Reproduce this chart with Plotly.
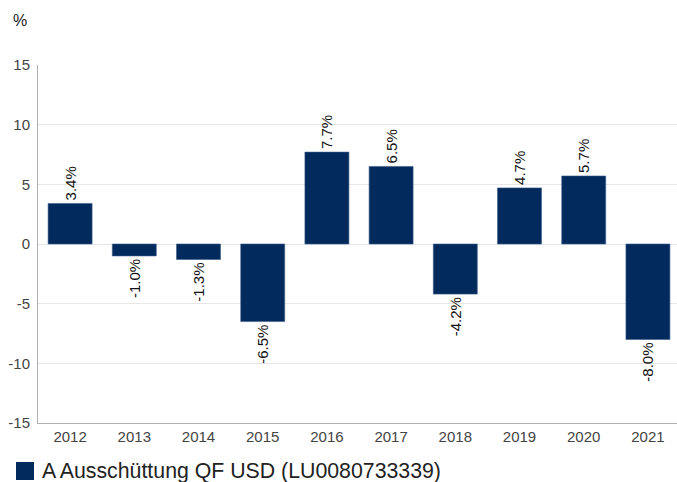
import plotly.graph_objects as go

years = ["2012", "2013", "2014", "2015", "2016", "2017", "2018", "2019", "2020", "2021"]
values = [3.4, -1.0, -1.3, -6.5, 7.7, 6.5, -4.2, 4.7, 5.7, -8.0]
labels = [f"{v:.1f}%" for v in values]
series_name = "A Ausschüttung QF USD (LU0080733339)"
y_ticks = [-15, -10, -5, 0, 5, 10, 15]
y_tick_text = [str(t) for t in y_ticks]

bar_color = "#022a5c"
font_family = "Liberation Sans, Arial, sans-serif"

fig = go.Figure()
fig.add_trace(go.Bar(
    x=years, y=values, text=labels,
    textposition="outside", textangle=-90,
    textfont=dict(size=15, color="#111", family=font_family),
    marker=dict(color=bar_color, line=dict(color="#3a5a8c", width=0.6)),
    cliponaxis=False, showlegend=False, name=series_name,
))

fig.update_layout(
    width=677, height=482,
    margin=dict(l=38, r=0, t=65, b=59),
    paper_bgcolor="white", plot_bgcolor="white",
    bargap=0.315,
    font=dict(family=font_family),
    xaxis=dict(
        type="category", range=[-0.5, 9.453], automargin=False,
        showgrid=False, showline=True, linecolor="#b0b0b0", linewidth=1,
        ticks="", tickfont=dict(size=15, color="#444"),
    ),
    yaxis=dict(
        range=[-15, 15], tickvals=y_ticks, ticktext=y_tick_text, automargin=False,
        showgrid=True, gridcolor="#e6e6e6", gridwidth=1,
        zeroline=False, showline=True, linecolor="#b0b0b0", linewidth=1,
        ticks="", tickfont=dict(size=15, color="#444"), ticklabelstandoff=4,
    ),
    shapes=[dict(type="rect", xref="paper", yref="paper",
                 x0=-22 / 639, x1=-4 / 639, y0=-57 / 358, y1=-39 / 358,
                 fillcolor=bar_color, line=dict(width=0))],
    annotations=[
        dict(text="%", xref="paper", yref="paper", x=-27 / 639, y=1 + 45 / 358,
             xanchor="left", yanchor="middle", showarrow=False,
             font=dict(size=16, color="#222")),
        dict(text=series_name, xref="paper", yref="paper", x=2 / 639, y=-48 / 358,
             xanchor="left", yanchor="middle", showarrow=False,
             font=dict(size=21.3, color="#222")),
    ],
)

fig.write_html(
    "out.html",
    config={"displayModeBar": False},
    post_script="document.body.style.margin='0px';document.body.style.padding='0px';",
)
